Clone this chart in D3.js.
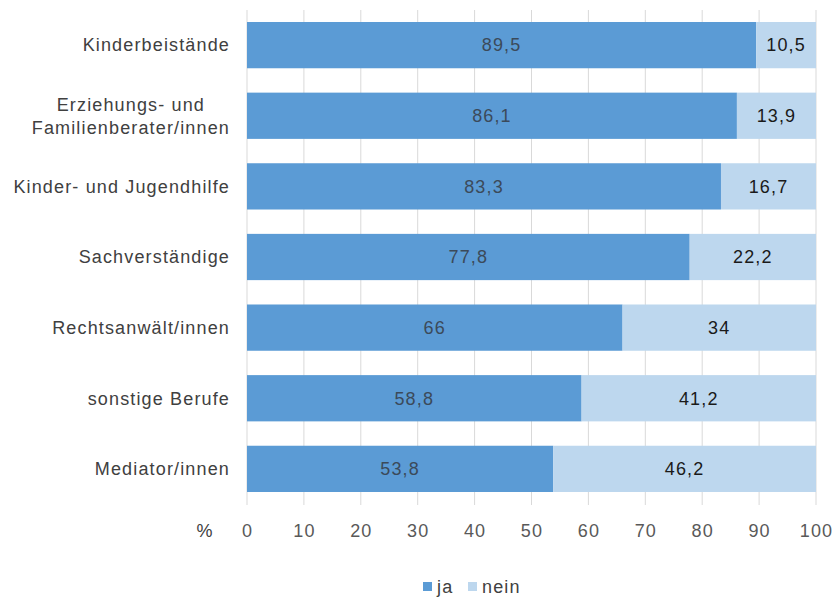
<!DOCTYPE html>
<html><head><meta charset="utf-8">
<script src="https://cdn.jsdelivr.net/npm/d3@7"></script>
<style>body{margin:0;background:#fff}svg{font-family:"Liberation Sans",Arial,sans-serif}text{letter-spacing:1.15px}</style>
</head><body><svg id="c" width="833" height="601"></svg>
<script>
const categories = ["Kinderbeistände", "Erziehungs- und|Familienberater/innen", "Kinder- und Jugendhilfe", "Sachverständige", "Rechtsanwält/innen", "sonstige Berufe", "Mediator/innen"];
const ja = [89.5, 86.1, 83.3, 77.8, 66, 58.8, 53.8];
const nein = [10.5, 13.9, 16.7, 22.2, 34, 41.2, 46.2];
const series = ["ja", "nein"];
const ticks = [0,10,20,30,40,50,60,70,80,90,100];
const colors = {ja:"#5b9bd5", nein:"#bdd7ee"};

const FS = 18;
const svg = d3.select("#c");
const x = d3.scaleLinear().domain([0,100]).range([247,816]);
const y = d3.scaleBand().domain(categories).range([10,504]).paddingInner(0.345).paddingOuter(0.17);

// gridlines
svg.append("g").selectAll("line").data(ticks).join("line")
  .attr("x1", d=>x(d)).attr("x2", d=>x(d)).attr("y1", 10).attr("y2", 505)
  .attr("stroke", "#d9d9d9").attr("stroke-width", 1);

const fmt = v => String(v).replace(".", ",");
const rows = categories.map((c,i)=>({c, ja:ja[i], nein:nein[i]}));
const stack = d3.stack().keys(series)(rows);

svg.append("g").selectAll("g").data(stack).join("g").attr("fill", d=>colors[d.key])
  .selectAll("rect").data(d=>d).join("rect")
  .attr("x", d=>x(d[0])).attr("width", d=>x(d[1])-x(d[0]))
  .attr("y", d=>y(d.data.c)).attr("height", y.bandwidth());

svg.append("g").selectAll("g").data(stack).join("g")
  .selectAll("text").data(d=>d.map(v=>({v, key:d.key}))).join("text")
  .attr("x", d=>(x(d.v[0])+x(d.v[1]))/2)
  .attr("y", d=>y(d.v.data.c)+y.bandwidth()/2)
  .attr("dy","0.35em").attr("text-anchor","middle")
  .attr("font-size", FS).attr("fill", d=>d.key==="ja" ? "#3b4a5a" : "#1a1a1a")
  .text(d=>fmt(d.v.data[d.key]));

// category labels
const labG = svg.append("g").attr("font-size", FS).attr("fill", "#404040");
categories.forEach(c=>{
  const lines = c.split("|");
  const cy = y(c)+y.bandwidth()/2;
  if (lines.length===1) {
    labG.append("text").attr("x", 230).attr("y", cy).attr("dy","0.35em").attr("text-anchor","end").text(lines[0]);
  } else {
    const t = labG.append("text").attr("text-anchor","middle");
    lines.forEach((l,j)=>t.append("tspan").attr("y", cy + (j-(lines.length-1)/2)*23).attr("dy","0.35em").text(l));
    let w = 0; t.selectAll("tspan").each(function(){w=Math.max(w,this.getComputedTextLength());});
    t.selectAll("tspan").attr("x", 230 - w/2);
  }
});

// x axis tick labels
const axis = d3.axisBottom(x).tickValues(ticks).tickSize(0).tickPadding(0);
const ax = svg.append("g").attr("transform","translate(0,531)").call(axis);
ax.select(".domain").remove();
ax.selectAll("text").attr("font-size",FS).attr("fill","#595959").attr("font-family","Liberation Sans, Arial, sans-serif").attr("dy","0.35em");
svg.append("text").attr("x", 205).attr("y", 531).attr("dy","0.35em").attr("text-anchor","middle")
  .attr("font-size",FS).attr("fill","#404040").text("%");

// legend
const leg = svg.append("g").attr("font-size",FS).attr("fill","#404040");
const legItems = [{k:"ja", x:423},{k:"nein", x:468}];
legItems.forEach(d=>{
  leg.append("rect").attr("x", d.x).attr("y", 582).attr("width",9).attr("height",9).attr("fill",colors[d.k]);
  leg.append("text").attr("x", d.x+14).attr("y", 587).attr("dy","0.35em").text(d.k);
});
</script></body></html>
